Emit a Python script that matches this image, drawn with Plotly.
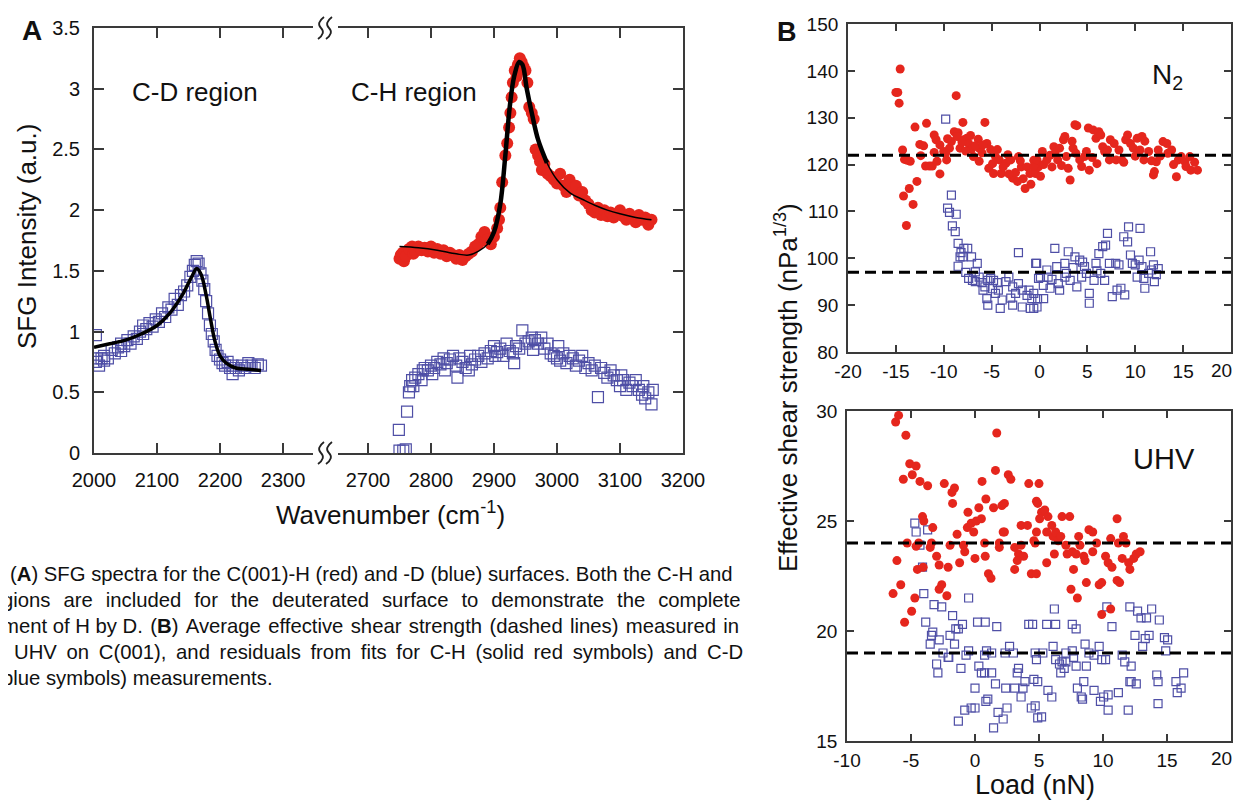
import plotly.graph_objects as go

# page body has an 8 px margin, so the figure is sized to fit inside it
W, H = 1241, 800
OFF = 8
FW, FH = W - 2 * OFF, H - OFF
RIGHT = 1231  # right frame of panel B, kept inside the visible page

# ---------------- Panel A : SFG spectra ----------------
# C-D region, deuterated surface (blue open squares)
cd_wn = [2003, 2003, 2005, 2008, 2012, 2016, 2016, 2022, 2028, 2033, 2038, 2043, 2043, 2048,
         2053, 2058, 2063, 2068, 2073, 2078, 2078, 2083, 2088, 2093, 2098, 2103, 2108, 2113,
         2118, 2123, 2128, 2133, 2138, 2143, 2148, 2153, 2157, 2160, 2163, 2166, 2169, 2172,
         2175, 2178, 2181, 2184, 2187, 2190, 2193, 2196, 2200, 2204, 2208, 2212, 2216, 2220,
         2220, 2225, 2230, 2235, 2240, 2245, 2250, 2255, 2260, 2265]
cd_int = [0.97, 0.75, 0.78, 0.72, 0.78, 0.80, 0.76, 0.78, 0.85, 0.82, 0.87, 0.90, 0.84, 0.88,
          0.93, 0.90, 0.96, 0.94, 1.00, 1.05, 0.98, 1.02, 1.07, 1.04, 1.10, 1.08, 1.15, 1.12,
          1.20, 1.18, 1.27, 1.22, 1.30, 1.33, 1.38, 1.45, 1.50, 1.55, 1.58, 1.56, 1.48, 1.42,
          1.35, 1.25, 1.15, 1.05, 0.98, 0.92, 0.85, 0.80, 0.77, 0.74, 0.72, 0.75, 0.70, 0.65,
          0.72, 0.70, 0.68, 0.72, 0.70, 0.74, 0.72, 0.70, 0.73, 0.72]
cd_fit_wn = [2000, 2025, 2050, 2075, 2100, 2120, 2140, 2155, 2163, 2170, 2178, 2185, 2192,
             2200, 2210, 2225, 2245, 2265]
cd_fit_int = [0.87, 0.90, 0.93, 0.98, 1.05, 1.15, 1.30, 1.45, 1.52, 1.47, 1.30, 1.10, 0.92,
              0.80, 0.74, 0.70, 0.69, 0.68]

# C-H region, deuterated surface (blue open squares)
chd_wn = [2750, 2756, 2760, 2749, 2762, 2765, 2767, 2770, 2772, 2775, 2780, 2785, 2787, 2790,
          2795, 2800, 2802, 2805, 2810, 2815, 2820, 2822, 2825, 2830, 2835, 2840, 2842, 2845,
          2850, 2855, 2860, 2862, 2865, 2870, 2875, 2880, 2885, 2890, 2895, 2900, 2902, 2905,
          2910, 2915, 2920, 2925, 2930, 2932, 2935, 2940, 2945, 2950, 2955, 2960, 2962, 2965,
          2970, 2975, 2980, 2985, 2990, 2995, 3000, 3002, 3005, 3010, 3015, 3020, 3025, 3030,
          3035, 3040, 3045, 3050, 3055, 3060, 3065, 3070, 3075, 3080, 3085, 3090, 3095, 3100,
          3102, 3105, 3110, 3115, 3120, 3125, 3130, 3135, 3137, 3140, 3145, 3150, 3152]
chd_int = [0.02, 0.02, 0.03, 0.19, 0.34, 0.50, 0.55, 0.60, 0.55, 0.62, 0.65, 0.60, 0.68, 0.70,
           0.68, 0.72, 0.65, 0.70, 0.75, 0.73, 0.78, 0.68, 0.74, 0.77, 0.80, 0.72, 0.62, 0.78,
           0.75, 0.70, 0.68, 0.80, 0.73, 0.77, 0.80, 0.75, 0.82, 0.78, 0.84, 0.88, 0.80, 0.83,
           0.86, 0.80, 0.90, 0.84, 0.82, 0.74, 0.88, 0.86, 1.01, 0.90, 0.92, 0.95, 0.85, 0.93,
           0.90, 0.95, 0.86, 0.90, 0.82, 0.80, 0.78, 0.88, 0.76, 0.82, 0.74, 0.80, 0.78, 0.72,
           0.76, 0.80, 0.70, 0.74, 0.68, 0.72, 0.46, 0.70, 0.66, 0.62, 0.68, 0.64, 0.60, 0.55,
           0.64, 0.60, 0.52, 0.58, 0.55, 0.60, 0.52, 0.48, 0.55, 0.45, 0.50, 0.40, 0.52]

# C-H region, hydrogenated surface (red filled circles)
chh_wn = [2750, 2752, 2755, 2757, 2760, 2765, 2770, 2772, 2775, 2780, 2785, 2790, 2795, 2800,
          2805, 2810, 2815, 2820, 2825, 2830, 2835, 2840, 2845, 2850, 2855, 2860, 2865, 2870,
          2875, 2880, 2885, 2887, 2890, 2895, 2900, 2905, 2908, 2910, 2913, 2918, 2921, 2924,
          2926, 2928, 2930, 2933, 2936, 2938, 2941, 2944, 2947, 2950, 2953, 2956, 2960, 2963,
          2966, 2970, 2973, 2976, 2980, 2985, 2990, 2995, 3000, 3005, 3010, 3015, 3020, 3025,
          3030, 3035, 3040, 3045, 3050, 3055, 3060, 3065, 3070, 3075, 3080, 3085, 3090, 3095,
          3100, 3105, 3110, 3115, 3120, 3125, 3130, 3135, 3140, 3145, 3150]
chh_int = [1.60, 1.63, 1.65, 1.58, 1.62, 1.68, 1.70, 1.64, 1.66, 1.70, 1.67, 1.69, 1.66, 1.70,
           1.65, 1.68, 1.64, 1.67, 1.62, 1.65, 1.63, 1.60, 1.63, 1.59, 1.62, 1.64, 1.66, 1.70,
           1.72, 1.78, 1.82, 1.75, 1.76, 1.72, 1.78, 1.85, 1.92, 2.02, 2.23, 2.45, 2.55, 2.68,
           2.80, 2.93, 3.05, 3.15, 3.10, 3.20, 3.25, 3.22, 3.18, 3.15, 3.05, 2.85, 2.80, 2.75,
           2.50, 2.45, 2.40, 2.33, 2.38, 2.30, 2.28, 2.25, 2.22, 2.30, 2.20, 2.15, 2.25, 2.18,
           2.20, 2.12, 2.15, 2.08, 2.05, 2.00, 1.98, 2.02, 1.96, 2.00, 1.95, 1.98, 1.94, 1.97,
           2.00, 1.95, 1.92, 1.97, 1.93, 1.90, 1.96, 1.92, 1.94, 1.88, 1.92]
ch_fit_wn = [2750, 2780, 2810, 2840, 2860, 2875, 2890, 2900, 2910, 2918, 2925, 2932, 2940,
             2945, 2952, 2960, 2970, 2984, 3000, 3021, 3040, 3060, 3080, 3100, 3125, 3150]
ch_fit_int = [1.70, 1.69, 1.67, 1.64, 1.63, 1.66, 1.72, 1.82, 2.05, 2.45, 2.85, 3.10, 3.22,
              3.20, 3.00, 2.80, 2.58, 2.39, 2.25, 2.14, 2.09, 2.04, 2.00, 1.97, 1.94, 1.92]

# ---------------- Panel B : effective shear strength ----------------
n2_red_load = [-14.55, -15.0, -14.8, -14.66, -14.3, -13.0, -14.1, -13.8, -13.5, -14.2, -13.6, -13.2,
               -12.8, -13.9, -11.8, -12.5, -12.1, -12.4, -11.9, -11.5, -11.2, -11.0, -10.8, -11.0,
               -10.4, -10.4, -10.7, -10.0, -9.7, -9.4, -9.2, -8.9, -8.7, -8.5, -8.3, -8.0, -7.9,
               -7.6, -7.4, -7.1, -6.9, -6.4, -6.3, -6.3, -5.7, -5.5, -5.3, -5.1, -4.8, -4.6, -4.4,
               -4.2, -4.0, -3.5, -3.3, -3.0, -2.8, -2.5, -2.3, -2.2, -1.9, -1.5, -1.3, -1.0, -0.6,
               -0.4, -0.1, -9.8, -9.6, -8.6, -8.1, -7.7, -7.2, -6.7, -6.0, -5.9, -4.9, -3.8, -3.2,
               -2.0, -1.7, -0.9,
               -0.6, -0.26, 0.1, 0.43, 0.77, 1.1, 1.5, 1.6, 1.9, 2.1, 2.5, 2.65, 2.8, 3.0, 3.2, 3.5,
               3.8, 3.7, 4.2, 4.4, 4.7, 4.9, 5.2, 5.1, 5.6, 5.9, 6.2, 6.4, 6.6, 6.8, 7.1, 7.3, 7.4,
               7.8, 8.0, 8.3, 8.6, 9.0, 9.2, 9.5, 9.8, 10.2, 10.5, 10.9, 11.0, 11.4, 11.9, 12.2, 12.4,
               12.9, 13.3, 13.4, 13.8, 14.3, 14.5, 14.8, 15.2, 15.3, 15.8, 15.7, 2.3, 3.4, 3.9, 5.5,
               6.0, 8.8, 10.0, 10.7, 11.7, 12.0, 12.6, 14.0, 16.2, 16.5, 1.3, 0.3]
n2_red_val = [140.4, 135.4, 135.4, 133.1, 123.1, 128.0, 121.1, 120.9, 120.7, 113.3, 114.9, 111.5,
              116.4, 107.0, 128.8, 124.3, 124.0, 121.9, 119.7, 119.7, 119.7, 126.3, 125.3, 122.6,
              124.2, 118.0, 120.7, 122.8, 121.0, 123.5, 124.9, 127.0, 134.7, 126.8, 123.5, 129.0,
              125.3, 125.6, 124.5, 123.3, 121.7, 125.4, 123.5, 120.7, 129.0, 124.5, 119.2, 123.2,
              118.1, 121.7, 123.2, 121.0, 118.1, 120.3, 122.1, 121.0, 117.1, 118.3, 116.4, 121.7,
              119.5, 114.9, 119.5, 118.1, 120.9, 118.1, 119.5, 122.4, 125.5, 126.0, 124.8, 122.9,
              126.2, 124.0, 122.5, 124.2, 120.2, 119.5, 118.0, 120.8, 117.0, 115.8,
              119.6, 121.0, 117.5, 120.0, 121.0, 122.0, 123.8, 122.4, 121.0, 123.5, 125.3, 126.0,
              121.7, 119.2, 116.7, 123.5, 122.4, 128.5, 121.0, 119.6, 121.7, 122.8, 118.8, 127.8,
              127.4, 125.6, 127.0, 126.3, 123.8, 122.8, 123.1, 121.0, 125.3, 124.5, 121.0, 123.1,
              121.0, 125.3, 126.3, 124.5, 123.5, 125.6, 123.1, 121.0, 125.0, 122.8, 117.8, 120.6,
              123.1, 124.9, 124.5, 122.4, 123.1, 117.4, 121.0, 121.7, 120.6, 119.6, 118.8, 121.7,
              119.8, 125.0, 128.3, 121.5, 120.2, 120.5, 121.8, 126.0, 120.8, 118.5, 121.8, 120.0,
              120.5, 118.8, 119.5, 122.8]
n2_blue_load = [-9.8, -9.2, -9.6, -9.4, -8.7, -9.1, -8.8, -8.5, -8.2, -7.9, -7.5, -8.3, -8.0, -7.1,
                -8.5, -6.7, -6.5, -7.4, -7.0, -6.7, -6.3, -6.0, -5.7, -5.4, -5.1, -4.8, -5.9, -5.5,
                -5.4, -4.9, -4.6, -4.3, -3.9, -4.1, -3.5, -3.2, -2.8, -2.5, -2.2, -1.8, -2.8, -1.8,
                -1.3, -2.2, -0.96, -0.6, -0.3, -0.1, -0.2, -1.1, -0.8,
                -0.4, 0.1, -0.6, -0.26, 0.43, 0.77, 0.9, 1.1, 1.6, 1.8, 1.97, 2.65, 3.0, 2.8, 2.1,
                3.2, 3.9, 3.7, 4.2, 4.5, 4.7, 4.9, 5.2, 5.7, 5.9, 6.2, 6.4, 6.6, 6.9, 7.1, 6.8, 7.3,
                7.6, 8.1, 8.5, 7.96, 8.3, 8.8, 9.2, 9.3, 9.5, 9.7, 10.0, 10.4, 10.5, 10.2, 10.9,
                11.0, 11.4, 11.6, 11.7, 11.9, 5.2, 4.4, 2.65, 12.2, 12.4, 1.3, 0.4, -3.0, -4.4,
                -7.7, 3.5, 6.0, 8.9, 10.7, 12.0]
n2_blue_val = [129.7, 113.5, 110.7, 109.8, 109.4, 106.9, 105.7, 103.2, 101.2, 102.1, 102.1, 100.3,
               100.3, 100.3, 98.3, 97.1, 98.9, 95.7, 95.3, 95.0, 96.0, 94.8, 93.9, 95.3, 95.7,
               95.3, 93.2, 91.4, 90.0, 93.5, 92.5, 93.2, 91.1, 89.3, 95.0, 96.0, 93.9, 92.5, 94.6,
               93.2, 90.0, 89.6, 92.1, 101.2, 89.3, 89.3, 98.9, 95.7, 91.4, 93.2, 91.4,
               98.9, 96.0, 92.5, 89.6, 91.4, 97.5, 96.0, 93.6, 102.1, 98.2, 94.6, 98.9, 101.4,
               96.8, 93.2, 95.3, 93.9, 100.3, 99.6, 99.2, 98.2, 96.8, 92.5, 95.3, 98.9, 101.0,
               96.8, 102.5, 102.8, 105.3, 95.3, 98.9, 91.8, 93.2, 93.6, 98.9, 98.6, 104.6, 103.5,
               106.7, 100.7, 98.9, 98.6, 99.6, 106.4, 96.0, 95.7, 93.6, 96.8, 101.4, 97.5, 98.6,
               90.4, 96.0, 96.0, 96.5, 97.8, 95.5, 94.2, 91.5, 94.8, 97.0, 98.0, 97.3, 92.2,
               98.2, 95.0]
n2_mean = [122, 97]

uhv_red_load = [-6.2, -5.97, -5.4, -5.1, -4.6, -5.6, -4.9, -4.3, -3.7, -2.4, -1.8, -1.6, -1.75,
                -4.1, -4.0, -5.3, -4.4, -4.6, -3.5, -3.4, -3.3, -3.0, -2.8, -2.1, -6.1, -4.5,
                -4.05, -5.8, -6.4, -4.7, -4.95, -5.5, -2.6, -2.8, -2.2, -1.95, -1.2, -1.4, -0.9,
                -0.8, -0.55, -0.6, -0.3, -0.1, 0.1, 0.0, 0.3, 0.5, 0.55, 0.85, 1.6, 1.7, 0.75, 0.8,
                1.05, 1.25, 1.9, 1.9, 2.1, 1.45, 2.3, 2.6, 2.8, 2.2, 2.3, 3.1, 3.4, 3.6, 3.8, 3.1,
                3.3, 3.6, 4.1, 4.2, 4.4, 4.6, 4.8,
                5.0, 4.9, 5.2, 5.45, 5.7, 5.05, 4.8, 4.7, 5.6, 6.0, 6.1, 6.3, 6.5, 6.7, 6.2, 5.6,
                4.8, 6.8, 7.4, 7.1, 7.2, 7.6, 7.9, 8.1, 8.2, 8.5, 7.7, 7.5, 8.0, 8.6, 8.9, 9.2,
                8.7, 9.2, 9.5, 9.7, 9.9, 10.2, 10.4, 10.7, 10.6, 11.1, 11.1, 11.3, 11.2, 11.6,
                11.8, 11.5, 12.0, 12.1, 12.4, 12.6, 12.9, 10.6, 9.9]
uhv_red_val = [29.5, 29.8, 28.9, 27.6, 27.5, 26.9, 27.1, 26.8, 26.6, 26.7, 26.3, 26.5, 25.8,
               25.2, 25.0, 24.0, 24.0, 23.85, 23.8, 24.0, 24.7, 23.4, 23.0, 22.9, 23.2, 22.8,
               22.9, 22.1, 21.7, 21.5, 20.9, 20.4, 22.1, 21.9, 21.6, 23.9, 23.1, 24.4, 23.9,
               23.6, 25.4, 24.7, 24.9, 24.5, 25.0, 23.3, 25.6, 25.1, 26.8, 26.0, 27.3, 29.0,
               24.0, 23.4, 22.6, 22.4, 23.8, 24.0, 25.7, 25.6, 25.8, 27.1, 26.9, 24.5, 24.5,
               23.8, 23.5, 23.9, 23.4, 22.8, 23.2, 24.8, 24.8, 26.7, 22.6, 24.1, 25.9,
               26.7, 25.8, 25.4, 25.5, 25.2, 25.1, 24.5, 24.0, 24.5, 24.8, 24.3, 24.5, 24.1,
               24.3, 23.5, 23.1, 22.6, 25.2, 25.2, 23.9, 23.5, 23.6, 23.5, 24.3, 23.9, 23.4,
               22.8, 21.9, 21.5, 23.2, 24.6, 24.5, 22.2, 23.6, 24.0, 22.1, 22.2, 23.4, 23.1,
               22.9, 24.2, 25.1, 22.3, 22.2, 24.0, 24.3, 24.0, 23.3, 23.1, 22.8, 23.3, 23.5,
               23.6, 21.0, 20.75]
uhv_blue_load = [-4.7, -4.6, -3.7, -4.3, -4.1, -4.0, -3.2, -2.6, -3.85, -3.3, -3.4, -3.5, -2.8,
                 -1.75, -1.5, -1.3, -0.98, -1.95, -1.6, -0.5, 0.2, -2.5, -2.1, -2.05, -3.0, -2.9,
                 -1.1, -0.7, -0.5, 0.3, 0.0, 0.75, 0.9, 1.3, 0.5, 0.75, 1.3, 1.6, 2.4, 3.1, 1.7,
                 2.7, 2.35, 3.0, 3.4, 3.3, 3.9, 3.75, 3.6, 4.4, 4.2, 4.6, -1.3, -0.8, -0.3, 0.0,
                 0.85, 1.0, 1.45, 1.8, 2.2, 2.5, 4.9, 0.8,
                 4.5, 4.7, 4.8, 4.9, 5.2, 4.7, 5.3, 5.6, 5.7, 6.0, 6.1, 6.3, 6.3, 6.6, 6.8, 6.97,
                 7.1, 6.7, 6.2, 7.6, 7.7, 7.9, 8.0, 8.4, 8.5, 7.6, 7.9, 8.6, 8.7, 8.9, 9.3, 9.7,
                 9.8, 10.05, 9.9, 10.2, 10.4, 10.3, 10.7, 10.4, 11.2, 11.5, 11.7, 11.97, 12.2,
                 12.1, 12.1, 12.5, 12.7, 12.97, 13.4, 13.6, 13.1, 13.3, 13.8, 14.2, 14.3, 14.4,
                 14.3, 14.8, 15.05, 14.9, 15.7, 15.8, 16.1, 16.3, 12.2, 12.6, 7.1, 9.3, 8.3]
uhv_blue_val = [24.9, 24.5, 24.6, 23.9, 22.9, 21.7, 21.2, 21.1, 20.4, 19.95, 19.8, 19.4, 19.6,
                20.7, 20.1, 20.1, 20.3, 19.8, 19.4, 21.5, 20.4, 19.0, 18.8, 18.8, 18.5, 18.1,
                18.3, 18.9, 19.1, 18.4, 17.4, 18.9, 19.1, 19.0, 18.1, 18.1, 18.1, 17.6, 17.4,
                17.4, 20.2, 19.3, 19.0, 19.0, 18.3, 18.1, 17.7, 17.4, 17.0, 16.5, 20.3, 17.8,
                15.9, 16.4, 16.5, 16.5, 16.8, 16.9, 15.6, 16.3, 16.0, 16.5, 16.05, 20.4,
                20.3, 19.0, 18.7, 17.7, 16.1, 16.6, 19.0, 20.3, 17.3, 17.0, 19.3, 20.3, 18.7,
                18.5, 18.6, 18.3, 18.6, 18.1, 21.0, 19.1, 18.8, 18.4, 17.4, 16.9, 17.7, 20.3,
                20.1, 19.4, 18.4, 19.0, 18.9, 19.3, 16.8, 17.0, 18.7, 18.7, 17.1, 21.1, 20.2,
                16.4, 17.2, 18.9, 18.6, 16.4, 18.4, 17.7, 21.1, 19.8, 20.9, 20.6, 20.6, 19.8,
                19.3, 19.65, 21.0, 18.0, 17.7, 20.5, 16.7, 19.7, 19.6, 19.1, 17.7, 17.2, 17.4,
                18.1, 17.7, 17.6, 19.0, 17.3, 17.0]
uhv_mean = [24, 19]

# tick labels of panel B load axes
n2_ticks = [-20, -15, -10, -5, 0, 5, 10, 15, 20]
uhv_ticks = [-10, -5, 0, 5, 10, 15, 20]

RED = "#e5261d"
BLUE = "#4f4fa6"
AX = "#3a3a3a"
FONT = "Liberation Sans, Arial, sans-serif"


def px(x):
    # window pixel -> paper fraction
    return (x - OFF) / FW


def py(y):
    return 1 - (y - OFF) / FH


def tick_text(vals):
    # the last label sits on the window edge; it is drawn separately, a little inward
    return [str(v) for v in vals[:-1]] + [""]


fig = go.Figure()

sq_a = dict(symbol="square-open", size=11, color=BLUE, line=dict(width=1.2, color=BLUE))
dot_a = dict(symbol="circle", size=12, color=RED, line=dict(width=0))
fig.add_trace(go.Scatter(x=cd_wn, y=cd_int, mode="markers", marker=sq_a, xaxis="x", yaxis="y"))
fig.add_trace(go.Scatter(x=cd_fit_wn, y=cd_fit_int, mode="lines", line=dict(color="black", width=3.5, shape="spline"),
                         xaxis="x", yaxis="y"))
fig.add_trace(go.Scatter(x=chd_wn, y=chd_int, mode="markers", marker=sq_a, xaxis="x2", yaxis="y2"))
fig.add_trace(go.Scatter(x=chh_wn, y=chh_int, mode="markers", marker=dot_a, xaxis="x2", yaxis="y2"))
fig.add_trace(go.Scatter(x=ch_fit_wn, y=ch_fit_int, mode="lines", line=dict(color="black", width=1.5, shape="spline"),
                         xaxis="x2", yaxis="y2"))
thick = [(w, v) for w, v in zip(ch_fit_wn, ch_fit_int) if 2890 <= w <= 2984]
fig.add_trace(go.Scatter(x=[t[0] for t in thick], y=[t[1] for t in thick], mode="lines",
                         line=dict(color="black", width=4.5, shape="spline"), xaxis="x2", yaxis="y2"))

sq_b = dict(symbol="square-open", size=8, color=BLUE, line=dict(width=1.2, color=BLUE))
dot_b = dict(symbol="circle", size=9, color=RED, line=dict(width=0))
fig.add_trace(go.Scatter(x=n2_blue_load, y=n2_blue_val, mode="markers", marker=sq_b, xaxis="x3", yaxis="y3"))
fig.add_trace(go.Scatter(x=n2_red_load, y=n2_red_val, mode="markers", marker=dot_b, xaxis="x3", yaxis="y3"))
fig.add_trace(go.Scatter(x=uhv_blue_load, y=uhv_blue_val, mode="markers", marker=sq_b, xaxis="x4", yaxis="y4"))
fig.add_trace(go.Scatter(x=uhv_red_load, y=uhv_red_val, mode="markers", marker=dot_b, xaxis="x4", yaxis="y4"))

for v in n2_mean:
    fig.add_shape(type="line", xref="x3 domain", yref="y3", x0=0, x1=1, y0=v, y1=v,
                  line=dict(color="black", width=3, dash="11px,6px"))
for v in uhv_mean:
    fig.add_shape(type="line", xref="x4 domain", yref="y4", x0=0, x1=1, y0=v, y1=v,
                  line=dict(color="black", width=3, dash="11px,6px"))

# axis-break marks
for cy in (28, 453):
    for cx in (321, 329):
        p = (f"M {px(cx + 3)},{py(cy - 11)} Q {px(cx - 5)},{py(cy - 5)} {px(cx)},{py(cy)} "
             f"Q {px(cx + 5)},{py(cy + 5)} {px(cx - 3)},{py(cy + 11)}")
        fig.add_shape(type="path", xref="paper", yref="paper", path=p, line=dict(color="#222", width=1.8))

common = dict(showline=True, linecolor=AX, linewidth=2, ticks="inside", tickcolor=AX, automargin=False,
              showgrid=False, zeroline=False, tickfont=dict(family=FONT, size=20, color="#111"))
commonb = dict(common, linewidth=1.8, ticklen=7, tickwidth=1.5, tickfont=dict(family=FONT, size=19, color="#111"),
               mirror="ticks")
ya = [py(453), py(28)]
fig.update_layout(
    width=FW, height=FH, margin=dict(l=0, r=0, t=0, b=0, autoexpand=False),
    paper_bgcolor="white", plot_bgcolor="white", showlegend=False,
    font=dict(family=FONT, color="#111"),
    xaxis=dict(common, domain=[px(94), px(313)], range=[2000, 2347.6], anchor="y",
               tickvals=[2000, 2100, 2200, 2300], ticklen=10, tickwidth=2, mirror="ticks", ticklabelstandoff=8),
    yaxis=dict(common, domain=ya, range=[0, 3.5], anchor="x", dtick=0.5, ticklen=10, tickwidth=2,
               ticklabelstandoff=8),
    xaxis2=dict(common, domain=[px(338), px(683)], range=[2652.4, 3200], anchor="y2",
                tickvals=[2700, 2800, 2900, 3000, 3100, 3200], ticklen=10, tickwidth=2, mirror="ticks",
                ticklabelstandoff=8),
    yaxis2=dict(common, domain=ya, range=[0, 3.5], anchor="x2", side="right", dtick=0.5, ticklen=10,
                tickwidth=2, showticklabels=False),
    xaxis3=dict(commonb, domain=[px(848), px(RIGHT)], range=[-20, 20], anchor="y3",
                tickvals=n2_ticks, ticktext=tick_text(n2_ticks), ticklabelstandoff=1),
    yaxis3=dict(commonb, domain=[py(352), py(24)], range=[80, 150], anchor="x3", dtick=10, ticklabelstandoff=4),
    xaxis4=dict(commonb, domain=[px(847), px(RIGHT)], range=[-10, 20], anchor="y4",
                tickvals=uhv_ticks, ticktext=tick_text(uhv_ticks), ticklabelstandoff=1),
    yaxis4=dict(commonb, domain=[py(741), py(411)], range=[15, 30], anchor="x4", dtick=5, ticklabelstandoff=4),
)


def note(text, x, y, size, xanchor="center", **kw):
    fig.add_annotation(text=text, x=px(x), y=py(y), xref="paper", yref="paper", showarrow=False,
                       xanchor=xanchor, yanchor="middle",
                       font=dict(family=FONT, size=size, color="#111"), **kw)


note("<b>A</b>", 32, 30, 28)
note("<b>B</b>", 787, 32, 27)
note("C-D region", 195, 92, 26)
note("C-H region", 414, 92, 26)
note("N<sub>2</sub>", 1150, 76, 28, xanchor="left")
note("UHV", 1164, 459, 29)
note("SFG Intensity (a.u.)", 27, 237, 26, textangle=-90)
note("Wavenumber (cm<sup>-1</sup>)", 390, 514, 26)
note("Effective shear strength (nPa<sup>1/3</sup>)", 786, 388, 26, textangle=-90)
note("Load (nN)", 1035, 785, 27)
note(str(n2_ticks[-1]), 1221, 371, 19)
note(str(uhv_ticks[-1]), 1221, 758, 19)


def spread(line, gap, skip=0):
    # widen the word gaps of a justified caption line
    words = line.split(" ")
    return " ".join(words[:skip + 1]) + "".join(gap + w for w in words[skip + 1:])


caption = [
    ("(<b>A</b>) SFG spectra for the C(001)-H (red) and -D (blue) surfaces. Both the C-H and", 8, 574),
    (spread("gions are included for the deuterated surface to demonstrate the complete", " \u00a0\u200a"), 0, 600),
    (spread("ment of H by D. (<b>B</b>) Average effective shear strength (dashed lines) measured in",
            " \u200a", skip=4), 0, 626),
    (spread("UHV on C(001), and residuals from fits for C-H (solid red symbols) and C-D", " \u2009"), 12, 652),
    ("blue symbols) measurements.", 0, 678),
]
for txt, x0, y0 in caption:
    note(txt, x0, y0, 20.3, xanchor="left")

fig.write_html("out.html")
